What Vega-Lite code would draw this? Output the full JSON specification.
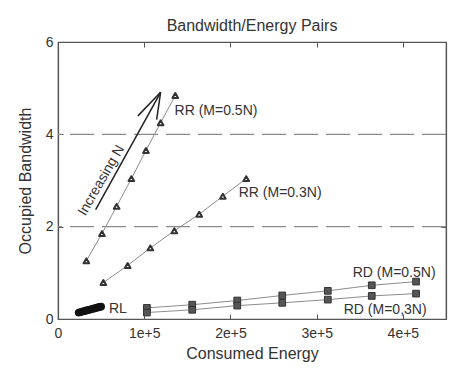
{
  "$schema": "https://vega.github.io/schema/vega-lite/v6.json",
  "width": 388,
  "height": 277,
  "autosize": {"type": "none"},
  "padding": {"left": 58, "top": 42, "right": 22, "bottom": 51},
  "background": "white",
  "title": {"text": "Bandwidth/Energy Pairs", "fontSize": 16, "fontWeight": "normal", "font": "Liberation Sans", "color": "#333", "offset": 1, "dy": 0},
  "config": {
    "view": {"stroke": "#555", "strokeWidth": 1.2},
    "font": "Liberation Sans",
    "axis": {
      "grid": false,
      "domainColor": "#555",
      "tickColor": "#555",
      "labelColor": "#333",
      "labelFont": "Liberation Sans",
      "labelFontSize": 14,
      "titleFont": "Liberation Sans",
      "titleFontSize": 16,
      "titleFontWeight": "normal",
      "titleColor": "#333",
      "tickSize": -5,
      "domainWidth": 1.2,
      "labelOverlap": false,
      "labelFlush": false,
      "labelBound": false
    }
  },
  "datasets": {
    "rr5": [
      {"energy": 32900, "bw": 1.26}, {"energy": 51000, "bw": 1.85}, {"energy": 68000, "bw": 2.44},
      {"energy": 85100, "bw": 3.04}, {"energy": 102000, "bw": 3.65}, {"energy": 119000, "bw": 4.25},
      {"energy": 136000, "bw": 4.84}
    ],
    "rr3": [
      {"energy": 52600, "bw": 0.79}, {"energy": 80800, "bw": 1.16}, {"energy": 107100, "bw": 1.54},
      {"energy": 134900, "bw": 1.91}, {"energy": 163800, "bw": 2.27}, {"energy": 191200, "bw": 2.66},
      {"energy": 218300, "bw": 3.04}
    ],
    "rd": [
      {"series": "RD5", "energy": 103100, "bw": 0.24}, {"series": "RD5", "energy": 155700, "bw": 0.31},
      {"series": "RD5", "energy": 207900, "bw": 0.40}, {"series": "RD5", "energy": 260100, "bw": 0.51},
      {"series": "RD5", "energy": 312900, "bw": 0.61}, {"series": "RD5", "energy": 363900, "bw": 0.73},
      {"series": "RD5", "energy": 415300, "bw": 0.81},
      {"series": "RD3", "energy": 103100, "bw": 0.14}, {"series": "RD3", "energy": 155700, "bw": 0.20},
      {"series": "RD3", "energy": 207900, "bw": 0.29}, {"series": "RD3", "energy": 260100, "bw": 0.35},
      {"series": "RD3", "energy": 312900, "bw": 0.42}, {"series": "RD3", "energy": 363900, "bw": 0.50},
      {"series": "RD3", "energy": 415300, "bw": 0.55}
    ],
    "rl": [
      {"energy": 24000, "bw": 0.14}, {"energy": 26000, "bw": 0.15}, {"energy": 28000, "bw": 0.16},
      {"energy": 30000, "bw": 0.17}, {"energy": 32000, "bw": 0.18}, {"energy": 34000, "bw": 0.19},
      {"energy": 36000, "bw": 0.20}, {"energy": 38000, "bw": 0.21}, {"energy": 40000, "bw": 0.22},
      {"energy": 42000, "bw": 0.23}, {"energy": 44000, "bw": 0.24}, {"energy": 46000, "bw": 0.25},
      {"energy": 48000, "bw": 0.26}, {"energy": 50000, "bw": 0.27}
    ],
    "labels": [
      {"label": "RR (M=0.5N)", "energy": 135200, "bw": 4.50},
      {"label": "RR (M=0.3N)", "energy": 209600, "bw": 2.74},
      {"label": "RL", "energy": 59100, "bw": 0.22},
      {"label": "RD (M=0.5N)", "energy": 341800, "bw": 1.0},
      {"label": "RD (M=0,3N)", "energy": 331400, "bw": 0.20}
    ],
    "arrow": [
      {"energy": 43700, "bw": 2.37, "energy2": 119000, "bw2": 4.91},
      {"energy": 92700, "bw": 4.40, "energy2": 119000, "bw2": 4.91},
      {"energy": 114400, "bw": 4.32, "energy2": 119000, "bw2": 4.91}
    ],
    "arrowText": [{"label": "Increasing N", "energy": 50300, "bw": 3.0}],
    "dashes": [{"bw": 2}, {"bw": 4}],
    "frame": [{"energy": 0, "bw": 0}]
  },
  "layer": [
    {
      "data": {"name": "dashes"},
      "mark": {"type": "rule", "color": "#8a8a8a", "strokeWidth": 1.2, "strokeDash": [24, 8]},
      "encoding": {
        "y": {"field": "bw", "type": "quantitative", "scale": {"domain": [0, 6]},
              "axis": {"orient": "left", "values": [0, 2, 4, 6], "title": "Occupied Bandwidth", "labelPadding": 10, "titlePadding": 12}}
      }
    },
    {
      "data": {"name": "frame"},
      "mark": {"type": "point", "opacity": 0},
      "encoding": {
        "x": {"field": "energy", "type": "quantitative", "scale": {"domain": [0, 450000]},
              "axis": {"orient": "bottom", "values": [0, 100000, 200000, 300000, 400000], "labelExpr": "datum.value == 0 ? '0' : (datum.value / 100000) + 'e+5'", "title": "Consumed Energy", "labelPadding": 12, "titlePadding": 5}},
        "y": {"field": "bw", "type": "quantitative", "scale": {"domain": [0, 6]},
              "axis": {"orient": "right", "values": [2, 4], "labels": false, "title": null}}
      }
    },
    {
      "data": {"name": "frame"},
      "mark": {"type": "point", "opacity": 0},
      "encoding": {
        "x": {"field": "energy", "type": "quantitative", "scale": {"domain": [0, 450000]},
              "axis": {"orient": "top", "values": [100000, 200000, 300000, 400000], "labels": false, "title": null}},
        "y": {"field": "bw", "type": "quantitative", "scale": {"domain": [0, 6]}, "axis": null}
      }
    },
    {
      "data": {"name": "rr5"},
      "mark": {"type": "line", "color": "#8c8c8c", "strokeWidth": 1},
      "encoding": {
        "x": {"field": "energy", "type": "quantitative", "axis": null},
        "y": {"field": "bw", "type": "quantitative", "axis": null}
      }
    },
    {
      "data": {"name": "rr3"},
      "mark": {"type": "line", "color": "#8c8c8c", "strokeWidth": 1},
      "encoding": {
        "x": {"field": "energy", "type": "quantitative", "axis": null},
        "y": {"field": "bw", "type": "quantitative", "axis": null}
      }
    },
    {
      "data": {"name": "rd"},
      "mark": {"type": "line", "color": "#8c8c8c", "strokeWidth": 1},
      "encoding": {
        "x": {"field": "energy", "type": "quantitative", "axis": null},
        "y": {"field": "bw", "type": "quantitative", "axis": null},
        "detail": {"field": "series"}
      }
    },
    {
      "data": {"name": "rr5"},
      "mark": {"type": "point", "shape": "triangle-up", "filled": true, "fill": "white", "stroke": "#333", "strokeWidth": 2, "strokeJoin": "round", "size": 32, "opacity": 1},
      "encoding": {
        "x": {"field": "energy", "type": "quantitative", "axis": null},
        "y": {"field": "bw", "type": "quantitative", "axis": null}
      }
    },
    {
      "data": {"name": "rr3"},
      "mark": {"type": "point", "shape": "triangle-up", "filled": true, "fill": "white", "stroke": "#333", "strokeWidth": 2, "strokeJoin": "round", "size": 32, "opacity": 1},
      "encoding": {
        "x": {"field": "energy", "type": "quantitative", "axis": null},
        "y": {"field": "bw", "type": "quantitative", "axis": null}
      }
    },
    {
      "data": {"name": "rd"},
      "mark": {"type": "point", "shape": "square", "filled": true, "fill": "#555", "stroke": "#333", "strokeWidth": 1, "size": 45, "opacity": 1},
      "encoding": {
        "x": {"field": "energy", "type": "quantitative", "axis": null},
        "y": {"field": "bw", "type": "quantitative", "axis": null}
      }
    },
    {
      "data": {"name": "rl"},
      "mark": {"type": "point", "shape": "circle", "filled": true, "fill": "#111", "size": 60, "opacity": 1},
      "encoding": {
        "x": {"field": "energy", "type": "quantitative", "axis": null},
        "y": {"field": "bw", "type": "quantitative", "axis": null}
      }
    },
    {
      "data": {"name": "arrow"},
      "mark": {"type": "rule", "color": "#222", "strokeWidth": 1.5},
      "encoding": {
        "x": {"field": "energy", "type": "quantitative", "axis": null},
        "y": {"field": "bw", "type": "quantitative", "axis": null},
        "x2": {"field": "energy2"},
        "y2": {"field": "bw2"}
      }
    },
    {
      "data": {"name": "labels"},
      "mark": {"type": "text", "align": "left", "baseline": "middle", "fontSize": 14, "color": "#333", "font": "Liberation Sans"},
      "encoding": {
        "x": {"field": "energy", "type": "quantitative", "axis": null},
        "y": {"field": "bw", "type": "quantitative", "axis": null},
        "text": {"field": "label"}
      }
    },
    {
      "data": {"name": "arrowText"},
      "mark": {"type": "text", "align": "center", "baseline": "middle", "fontSize": 14, "color": "#333", "angle": -60, "font": "Liberation Sans"},
      "encoding": {
        "x": {"field": "energy", "type": "quantitative", "axis": null},
        "y": {"field": "bw", "type": "quantitative", "axis": null},
        "text": {"field": "label"}
      }
    }
  ],
  "resolve": {"axis": {"x": "independent", "y": "independent"}}
}
